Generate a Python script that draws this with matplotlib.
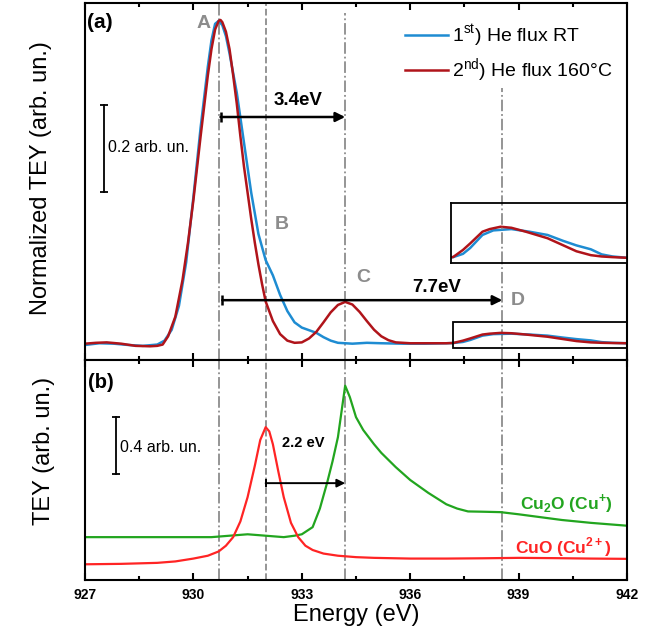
import numpy as np
import matplotlib.pyplot as plt
from matplotlib.patches import Rectangle

plt.rcParams['font.family'] = ['Liberation Sans', 'DejaVu Sans']
plt.rcParams['mathtext.fontset'] = 'custom'
plt.rcParams['mathtext.rm'] = 'Liberation Sans'
plt.rcParams['mathtext.bf'] = 'Liberation Sans:bold'

# (a) TEY spectra, two He flux runs
e_rt = [927.0, 927.4, 927.8, 928.2, 928.6, 929.0, 929.2, 929.4, 929.6, 929.8, 930.0,
        930.2, 930.4, 930.5, 930.6, 930.7, 930.8, 930.9, 931.0, 931.2, 931.4, 931.6,
        931.8, 932.0, 932.2, 932.4, 932.6, 932.8, 933.0, 933.2, 933.4, 933.6, 933.8,
        934.0, 934.4, 934.8, 935.2, 935.8, 936.4, 937.0, 937.19, 937.46, 937.66, 938.0,
        938.3, 938.8, 939.3, 939.8, 940.23, 940.6, 941.0, 941.3, 941.6, 942.0]
tey_rt = [0.000, 0.004, 0.003, 0.000, -0.002, 0.001, 0.010, 0.035, 0.090, 0.190, 0.340,
          0.500, 0.640, 0.700, 0.738, 0.745, 0.735, 0.710, 0.670, 0.580, 0.465, 0.350,
          0.255, 0.195, 0.160, 0.115, 0.078, 0.052, 0.040, 0.034, 0.028, 0.018, 0.010,
          0.005, 0.003, 0.005, 0.004, 0.003, 0.003, 0.004, 0.0045, 0.007, 0.0115, 0.0215,
          0.025, 0.026, 0.024, 0.0215, 0.017, 0.0135, 0.0105, 0.0066, 0.005, 0.004]

e_160 = [927.0, 927.3, 927.6, 928.0, 928.4, 928.8, 929.0, 929.15, 929.3, 929.5, 929.7,
         929.85, 930.0, 930.2, 930.4, 930.5, 930.6, 930.7, 930.75, 930.8, 930.9, 931.0,
         931.1, 931.2, 931.3, 931.4, 931.5, 931.6, 931.7, 931.8, 931.9, 932.0, 932.2,
         932.4, 932.6, 932.8, 933.0, 933.2, 933.4, 933.6, 933.8, 934.0, 934.2, 934.4,
         934.6, 934.8, 935.0, 935.2, 935.4, 935.6, 936.0, 936.5, 937.0, 937.19, 937.46,
         937.66, 938.0, 938.2, 938.5, 938.8, 939.2, 939.8, 940.2, 940.6, 941.0, 941.3,
         941.6, 942.0]
tey_160 = [0.003, 0.005, 0.006, 0.003, -0.002, -0.003, -0.002, 0.001, 0.020, 0.065, 0.150,
           0.235, 0.333, 0.480, 0.620, 0.680, 0.725, 0.745, 0.747, 0.742, 0.720, 0.680,
           0.620, 0.555, 0.480, 0.410, 0.350, 0.290, 0.235, 0.185, 0.140, 0.100, 0.055,
           0.025, 0.010, 0.005, 0.006, 0.015, 0.030, 0.052, 0.075, 0.092, 0.099, 0.093,
           0.076, 0.055, 0.035, 0.020, 0.011, 0.006, 0.004, 0.004, 0.004, 0.0046, 0.010,
           0.015, 0.024, 0.026, 0.0278, 0.027, 0.024, 0.019, 0.014, 0.009, 0.006, 0.005,
           0.0045, 0.004]

# (b) reference spectra
e_cu2o = [927.0, 928.0, 929.0, 930.0, 930.5, 931.0, 931.5, 932.0, 932.5, 932.8, 933.0,
          933.3, 933.5, 933.7, 933.85, 934.0, 934.1, 934.2, 934.33, 934.5, 934.7, 935.0,
          935.2, 935.6, 936.0, 936.5, 937.0, 937.3, 937.6, 938.0, 938.5, 939.0, 939.6,
          940.2, 941.0, 941.5, 942.0]
tey_cu2o = [0.30, 0.30, 0.30, 0.30, 0.30, 0.31, 0.32, 0.31, 0.30, 0.31, 0.32,
            0.37, 0.50, 0.68, 0.83, 1.00, 1.18, 1.36, 1.28, 1.14, 1.05, 0.95,
            0.89, 0.79, 0.70, 0.61, 0.53, 0.50, 0.48, 0.478, 0.475, 0.46, 0.44,
            0.42, 0.40, 0.39, 0.38]

e_cuo = [927.0, 928.0, 929.0, 929.5, 930.0, 930.4, 930.7, 930.9, 931.1, 931.3, 931.5,
         931.7, 931.85, 932.0, 932.1, 932.2, 932.35, 932.5, 932.7, 932.9, 933.1, 933.3,
         933.6, 934.0, 934.5, 935.0, 936.0, 937.0, 938.0, 939.0, 940.0, 941.0, 942.0]
tey_cuo = [0.11, 0.113, 0.12, 0.13, 0.15, 0.17, 0.20, 0.24, 0.30, 0.41, 0.58,
           0.80, 0.98, 1.07, 1.04, 0.95, 0.76, 0.58, 0.40, 0.30, 0.24, 0.21,
           0.185, 0.17, 0.16, 0.155, 0.15, 0.15, 0.152, 0.155, 0.153, 0.15, 0.148]

peak_lines = [930.7, 932.0, 934.2, 938.55]

c_blue = '#1e8cd2'
c_dred = '#b0141a'
c_green = '#22a51f'
c_red = '#ff2424'
c_gray = '#8c8c8c'

fig = plt.figure(figsize=(6.66, 6.32), dpi=100)
axa = fig.add_axes([85/666, 1-360/632, 542/666, 357/632])
axb = fig.add_axes([85/666, 1-580/632, 542/666, 220/632], sharex=axa)

for ax in (axa, axb):
    for s in ax.spines.values():
        s.set_linewidth(1.5)
    ax.set_xlim(927, 942)
    ax.set_xticks(np.arange(927, 943, 3))
    ax.set_xticks(np.arange(927, 942.1, 1.5), minor=True)
    ax.tick_params(axis='x', which='both', direction='in', top=True, width=1.5)
    ax.tick_params(axis='x', which='major', length=5)
    ax.tick_params(axis='x', which='minor', length=3)
    ax.set_yticks([])

axa.tick_params(axis='x', labelbottom=False)
axb.tick_params(axis='x', labelsize=10, pad=5.5)
for lab in axb.get_xticklabels():
    lab.set_fontweight('bold')

# (a)
axa.set_ylim(-0.0345, 0.786)
axa.axvline(peak_lines[0], color=c_gray, ls='-.', lw=1.3)
axa.axvline(peak_lines[1], color=c_gray, ls='--', lw=1.3)
axa.axvline(peak_lines[2], color=c_gray, ls='-.', lw=1.3, ymax=0.972)
axa.axvline(peak_lines[3], color=c_gray, ls='-.', lw=1.3, ymax=0.762)
axa.plot(e_rt, tey_rt, color=c_blue, lw=1.8, label='1$^{\\rm st}$) He flux RT')
axa.plot(e_160, tey_160, color=c_dred, lw=1.8, label='2$^{\\rm nd}$) He flux 160°C')
axa.legend(loc='upper left', bbox_to_anchor=(0.590, 0.944), frameon=False,
           fontsize=14, borderpad=0, borderaxespad=0, handlelength=2.2,
           handletextpad=0.25, labelspacing=0.35)

axa.text(927.42, 0.742, '(a)', fontsize=15, fontweight='bold', ha='center', va='center')
for lbl, x, y in [('A', 930.27, 0.738), ('B', 932.45, 0.276),
                  ('C', 934.69, 0.154), ('D', 938.98, 0.103)]:
    axa.text(x, y, lbl, fontsize=14, fontweight='bold', color=c_gray, ha='center', va='center')

axa.annotate('', xy=(934.2, 0.524), xytext=(930.75, 0.524),
             arrowprops=dict(arrowstyle='-|>', color='k', lw=1.8, mutation_scale=14, shrinkA=0, shrinkB=0))
axa.plot([930.75], [0.524], marker='|', color='k', ms=7, mew=1.8)
axa.text(932.9, 0.563, '3.4eV', fontsize=13.5, fontweight='bold', ha='center', va='center')
axa.annotate('', xy=(938.55, 0.103), xytext=(930.8, 0.103),
             arrowprops=dict(arrowstyle='-|>', color='k', lw=1.8, mutation_scale=14, shrinkA=0, shrinkB=0))
axa.plot([930.8], [0.103], marker='|', color='k', ms=7, mew=1.8)
axa.text(936.74, 0.131, '7.7eV', fontsize=13.5, fontweight='bold', ha='center', va='center')

axa.plot([927.53, 927.53], [0.352, 0.552], color='k', lw=1.3)
axa.plot([927.53, 927.53], [0.352, 0.552], ls='none', marker='_', color='k', ms=6, mew=1.3)
axa.text(927.64, 0.453, '0.2 arb. un.', fontsize=11.5, ha='left', va='center')

axa.add_patch(Rectangle((937.19, -0.0069), 942 - 937.19, 0.0598, fill=False,
                        ec='k', lw=1.3, clip_on=False, zorder=5))

ins = fig.add_axes([451/666, 1-263/632, 176/666, 60/632])
ins.plot(e_rt, tey_rt, color=c_blue, lw=1.8)
ins.plot(e_160, tey_160, color=c_dred, lw=1.8)
ins.set_xlim(927 + (451 - 85) / 36.133, 942)
ins.set_ylim(0.0, 0.046)
ins.axvline(peak_lines[3], color=c_gray, ls='-.', lw=1.3)
ins.set_xticks([])
ins.set_yticks([])
for s in ins.spines.values():
    s.set_linewidth(1.3)

# (b)
axb.set_ylim(0, 1.54)
axb.axvline(peak_lines[0], color=c_gray, ls='-.', lw=1.3)
axb.axvline(peak_lines[1], color=c_gray, ls='--', lw=1.3)
axb.axvline(peak_lines[2], color=c_gray, ls='-.', lw=1.3)
axb.axvline(peak_lines[3], color=c_gray, ls='-.', lw=1.3)
axb.plot(e_cu2o, tey_cu2o, color=c_green, lw=1.6)
axb.plot(e_cuo, tey_cuo, color=c_red, lw=1.6)

axb.text(927.44, 1.385, '(b)', fontsize=14.5, fontweight='bold', ha='center', va='center')
axb.annotate('', xy=(934.2, 0.678), xytext=(932.0, 0.678),
             arrowprops=dict(arrowstyle='-|>', color='k', lw=1.4, mutation_scale=12, shrinkA=0, shrinkB=0))
axb.plot([932.0], [0.678], marker='|', color='k', ms=6, mew=1.4)
axb.text(933.03, 0.958, '2.2 eV', fontsize=10.5, fontweight='bold', ha='center', va='center')

axb.plot([927.86, 927.86], [0.741, 1.14], color='k', lw=1.3)
axb.plot([927.86, 927.86], [0.741, 1.14], ls='none', marker='_', color='k', ms=6, mew=1.3)
axb.text(927.97, 0.93, '0.4 arb. un.', fontsize=11.5, ha='left', va='center')

axb.text(941.61, 0.538, 'Cu$_\\mathbf{2}$O (Cu$^\\mathbf{+}$)', fontsize=12.5, fontweight='bold',
         color=c_green, ha='right', va='center')
axb.text(941.59, 0.231, 'CuO (Cu$^\\mathbf{2+}$)', fontsize=12.5, fontweight='bold',
         color=c_red, ha='right', va='center')

axb.set_xlabel('Energy (eV)', fontsize=17, labelpad=2)
fig.text(41/666, 1-178/632, 'Normalized TEY (arb. un.)', fontsize=17, rotation=90,
         ha='center', va='center')
fig.text(44/666, 1-451/632, 'TEY (arb. un.)', fontsize=17, rotation=90,
         ha='center', va='center')

fig.savefig('out.png', dpi=100)
